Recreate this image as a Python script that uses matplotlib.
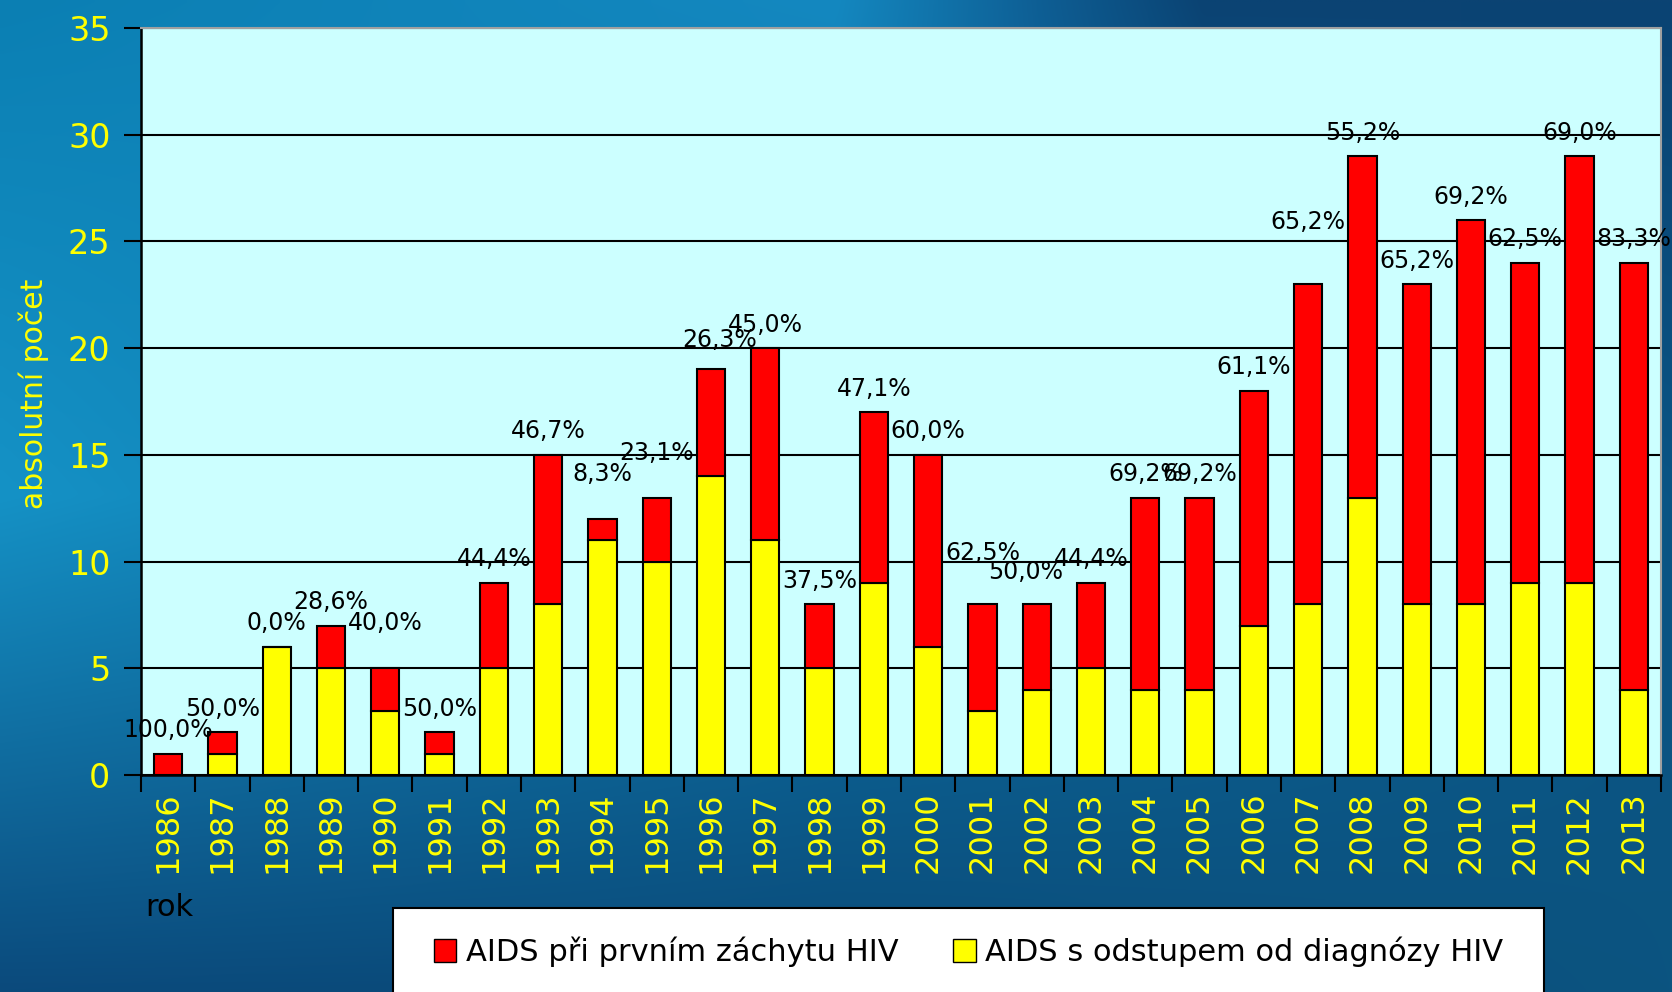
import numpy as np
import matplotlib.pyplot as plt
from matplotlib.patches import Rectangle, Patch

# Data: AIDS cases by year
roky = [str(r) for r in range(1986, 2014)]
# AIDS s odstupem od diagnózy HIV (yellow)
s_odstupem = [0, 1, 6, 5, 3, 1, 5, 8, 11, 10, 14, 11, 5, 9, 6, 3, 4, 5, 4, 4,
              7, 8, 13, 8, 8, 9, 9, 4]
# AIDS při prvním záchytu HIV (red)
pri_zachytu = [1, 1, 0, 2, 2, 1, 4, 7, 1, 3, 5, 9, 3, 8, 9, 5, 4, 4, 9, 9,
               11, 15, 16, 15, 18, 15, 20, 20]

# manual shifts of the percentage labels (data units), as in the original
label_dy = {1990: 1.0, 1994: 1.0, 1995: 1.0, 1996: 0.3,
            2001: 1.3, 2002: 0.4, 2007: 1.8}
label_dx = {1996: 0.15, 2002: -0.2}

fig = plt.figure(figsize=(16.72, 9.92), dpi=100)


def hexrgb(h):
    return [int(h[i:i + 2], 16) / 255 for i in (1, 3, 5)]


# background gradient (rows of control colours, interpolated)
bg_rows = [
    (0.0, [0, 0.5, 0.62, 0.72, 1], ["#0B7FB3", "#1488C0", "#0E5F95", "#0B4373", "#0B4373"]),
    (0.5, [0, 0.5, 1], ["#1592C6", "#0E72A6", "#0A5585"]),
    (1.0, [0, 0.5, 1], ["#0B4A7C", "#0A4A78", "#0C5480"]),
]
nx, ny = 400, 240
xs = np.linspace(0, 1, nx)
ys = np.linspace(0, 1, ny)
rows = []
for _, px, cols in bg_rows:
    c = np.array([hexrgb(h) for h in cols])
    rows.append(np.stack([np.interp(xs, px, c[:, k]) for k in range(3)], axis=-1))
rows = np.array(rows)
ry = [r[0] for r in bg_rows]
img = np.zeros((ny, nx, 3))
for k in range(3):
    for j in range(nx):
        img[:, j, k] = np.interp(ys, ry, rows[:, j, k])

bg = fig.add_axes([0, 0, 1, 1], zorder=-10)
bg.axis("off")
bg.imshow(img, aspect="auto", extent=[0, 1, 0, 1], origin="upper", interpolation="bilinear")
bg.set_xlim(0, 1)
bg.set_ylim(0, 1)

ax = fig.add_axes([141 / 1672, 1 - 775 / 992, (1661 - 141) / 1672, (775 - 28) / 992])
ax.set_facecolor("#CCFFFF")

x = np.arange(len(roky))
ax.bar(x, s_odstupem, width=0.52, color="#FFFF00", edgecolor="black", linewidth=1.5,
       zorder=3, label="AIDS s odstupem od diagnózy HIV")
ax.bar(x, pri_zachytu, width=0.52, bottom=s_odstupem, color="#FF0000", edgecolor="black",
       linewidth=1.5, zorder=3, label="AIDS při prvním záchytu HIV")

for i, rok in enumerate(range(1986, 2014)):
    total = s_odstupem[i] + pri_zachytu[i]
    pct = pri_zachytu[i] / total * 100
    txt = f"{pct:.1f}%".replace(".", ",")
    ax.text(i + label_dx.get(rok, 0), total + 1.1 + label_dy.get(rok, 0), txt,
            ha="center", va="center", fontsize=17, color="black", zorder=5)

ax.set_xlim(-0.5, len(roky) - 0.5)
ax.set_ylim(0, 35)
ax.set_yticks(range(0, 36, 5))
ax.yaxis.grid(True, color="black", linewidth=1.5, zorder=0)
ax.set_axisbelow(True)

ax.set_xticks(x)
ax.set_xticklabels(roky, rotation=90, color="#FFFF00", fontsize=23)
ax.set_xticks(np.arange(-0.5, len(roky)), minor=True)
ax.tick_params(axis="x", which="major", length=0, pad=12)
ax.tick_params(axis="x", which="minor", length=12, width=1.5, color="black", direction="out")
ax.tick_params(axis="y", labelcolor="#FFFF00", labelsize=24, length=12, width=1.5,
               color="black", pad=10)

for s in ["left", "bottom"]:
    ax.spines[s].set_color("black")
    ax.spines[s].set_linewidth(1.8)
for s in ["top", "right"]:
    ax.spines[s].set_color("#A0A0A0")
    ax.spines[s].set_linewidth(1.5)

fig.text(34 / 1672, 1 - 394 / 992, "absolutní počet", rotation=90, color="#FFFF00",
         fontsize=21.5, ha="center", va="center")
fig.text(145 / 1672, 1 - 907 / 992, "rok", color="black", fontsize=22,
         ha="left", va="center")

# legend box
fig.patches.append(Rectangle((393 / 1672, -0.02), (1544 - 393) / 1672, 0.02 + (992 - 908) / 992,
                             transform=fig.transFigure, facecolor="white",
                             edgecolor="black", linewidth=1.5, zorder=5))
handles = [Patch(facecolor="#FF0000", edgecolor="black"),
           Patch(facecolor="#FFFF00", edgecolor="black")]
fig.legend(handles, ["AIDS při prvním záchytu HIV", "AIDS s odstupem od diagnózy HIV"],
           loc="center", bbox_to_anchor=((393 + 1544) / 2 / 1672, 1 - 952 / 992),
           ncol=2, frameon=False, fontsize=22, handlelength=0.75, handleheight=0.75,
           handletextpad=0.3, columnspacing=1.8)

plt.savefig("out.png", dpi=100)
